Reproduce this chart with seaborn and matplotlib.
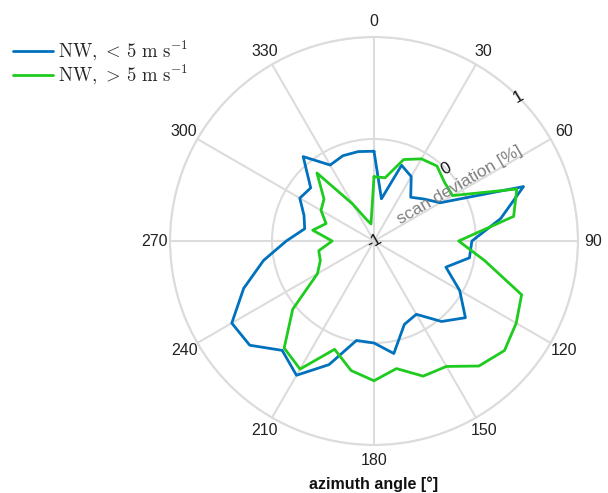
import numpy as np
import pandas as pd
import matplotlib
matplotlib.use("Agg")
import matplotlib.pyplot as plt
import seaborn as sns

# azimuth sectors [deg] and scan deviation [%]
azimuth = [0, 10, 20, 30, 40, 50, 60, 70, 80, 90, 100, 110,
           120, 130, 140, 150, 160, 170, 180, 190, 200, 210, 220, 230,
           240, 250, 260, 270, 280, 290, 300, 310, 320, 330, 340, 350]
dev_low = [-0.12, -0.58, -0.21, -0.27, -0.44, -0.36, -0.25, 0.56, 0.26, -0.04, -0.05, -0.25,
           -0.03, 0.17, 0.03, -0.17, -0.13, 0.12, 0.00, -0.01, 0.29, 0.52, 0.40, 0.59,
           0.61, 0.36, 0.10, -0.14, -0.31, -0.27, -0.16, -0.19, 0.08, -0.14, -0.11, -0.11]
dev_high = [-0.37, -0.37, -0.15, -0.07, -0.04, -0.10, -0.11, 0.49, 0.39, -0.17, 0.10, 0.54,
            0.61, 0.67, 0.60, 0.42, 0.41, 0.27, 0.37, 0.29, 0.13, 0.45, 0.37, 0.04,
            -0.36, -0.44, -0.45, -0.59, -0.39, -0.50, -0.40, -0.36, -0.13, -0.58, -0.77, -0.83]
labels = [r"$\mathrm{NW},\,<\,5\ \mathrm{m\ s^{-1}}$", r"$\mathrm{NW},\,>\,5\ \mathrm{m\ s^{-1}}$"]
colors = ["#0072BD", "#1ECB1E"]
r_ticks = [-1, 0, 1]
theta_ticks = list(range(0, 360, 30))

sns.set_theme(style="white")
plt.rcParams["font.family"] = ["Liberation Sans", "DejaVu Sans"]
plt.rcParams["mathtext.fontset"] = "cm"

fig = plt.figure(figsize=(6.08, 4.93), dpi=100)
ax = fig.add_axes([170 / 608, 48 / 493, 408 / 608, 408 / 493], projection="polar")
ax.set_theta_zero_location("N")
ax.set_theta_direction(-1)

# close each curve by repeating the first value at 360 deg
theta_closed = np.deg2rad(azimuth + [360])
for vals, lab, col in zip([dev_low, dev_high], labels, colors):
    df = pd.DataFrame({"theta": theta_closed, "r": vals + vals[:1]})
    sns.lineplot(data=df, x="theta", y="r", sort=False, ax=ax, color=col,
                 linewidth=2, label=lab)

ax.set_ylim(-1, 1)
ax.set_yticks(r_ticks)
ax.set_yticklabels([])
for t in r_ticks:
    ax.text(np.deg2rad(45), t, str(t), rotation=30, ha="center", va="center",
            fontsize=12, color="#111111")
ax.set_xticks(np.deg2rad(theta_ticks))
ax.set_xticklabels([str(t) for t in theta_ticks], fontsize=11.5, color="#222222")
ax.tick_params(axis="x", pad=-2)
ax.grid(True, color="#dcdcdc", linewidth=1.5)
ax.spines["polar"].set_color("#dcdcdc")
ax.spines["polar"].set_linewidth(1.5)
ax.set_xlabel("")
ax.set_ylabel("")

ax.text(np.deg2rad(57), 0.0, "scan deviation [%]", rotation=30, ha="center", va="center",
        fontsize=12.5, color="#808080")

fig.text(374 / 608, 1 - 484 / 493, "azimuth angle [°]", ha="center", va="center",
         fontsize=11.5, fontweight="bold", color="#111111")

ax.legend(loc="upper left", bbox_to_anchor=(0.0, 0.948), bbox_transform=fig.transFigure,
          frameon=False, fontsize=13.5, handlelength=2.1, handletextpad=0.3,
          labelspacing=0.0, borderaxespad=0.3)

fig.savefig("out.png", dpi=100)
plt.close(fig)
